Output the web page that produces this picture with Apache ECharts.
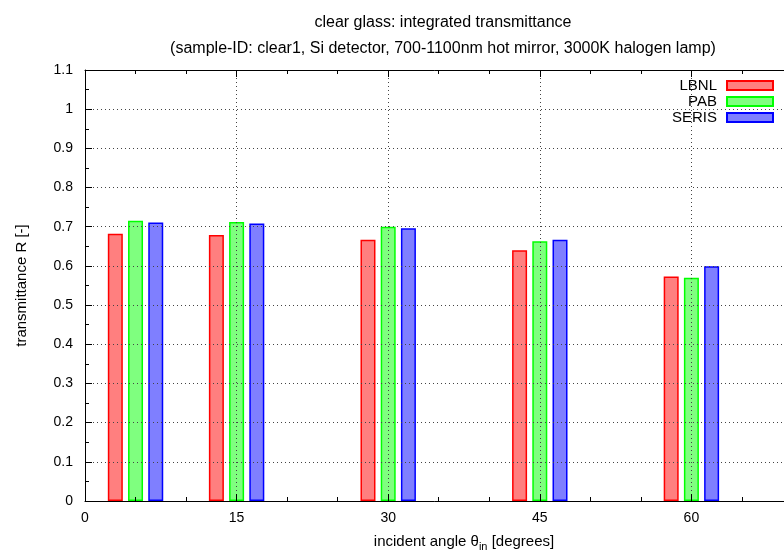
<!DOCTYPE html>
<html>
<head>
<meta charset="utf-8">
<script src="https://cdn.jsdelivr.net/npm/echarts@6/dist/echarts.min.js"></script>
<style>
  html, body { margin: 0; padding: 0; background: #ffffff; }
  #chart { width: 784px; height: 555px; }
</style>
</head>
<body>
<div id="chart"></div>
<script>
// Incident angles (degrees) at which the integrated transmittance was measured
const angles = [5, 15, 30, 45, 60];

// Integrated transmittance per laboratory
const lbnl  = [0.682, 0.679, 0.667, 0.640, 0.573];
const pab   = [0.715, 0.712, 0.700, 0.663, 0.570];
const seris = [0.711, 0.708, 0.696, 0.667, 0.599];

const labNames = ['LBNL', 'PAB', 'SERIS'];

const FONT = '"Liberation Sans", Arial, Helvetica, sans-serif';

// Bars of one angle are spread side by side around the angle value (degrees)
const barShift = [-2, 0, 2];
const strokes = ['#ff0000', '#00ff00', '#0000ff'];
const fills = ['rgba(255,0,0,0.5)', 'rgba(0,255,0,0.5)', 'rgba(0,0,255,0.5)'];

const chart = echarts.init(document.getElementById('chart'), null, { renderer: 'canvas' });

const gridDots = { show: true, lineStyle: { color: '#444', width: 1, type: [1, 3] } };

const series = [lbnl, pab, seris].map((vals, k) => ({
  name: labNames[k],
  type: 'bar',
  xAxisIndex: 0,
  yAxisIndex: 0,
  barWidth: 15,
  barGap: '-100%',
  itemStyle: { color: fills[k], borderColor: strokes[k], borderWidth: 1.5 },
  data: angles.map((a, i) => [a + barShift[k], vals[i]]),
  z: 2
}));

chart.setOption({
  animation: false,
  backgroundColor: '#ffffff',
  textStyle: { fontFamily: FONT },
  title: {
    text: 'clear glass: integrated transmittance',
    subtext: '(sample-ID: clear1, Si detector, 700-1100nm hot mirror, 3000K halogen lamp)',
    left: 438,
    textAlign: 'center',
    top: 10,
    itemGap: 10,
    textStyle: { fontFamily: FONT, fontSize: 16, fontWeight: 'normal', color: '#000' },
    subtextStyle: { fontFamily: FONT, fontSize: 16, color: '#000' }
  },
  legend: {
    data: labNames,
    orient: 'vertical',
    align: 'right',
    right: 5,
    top: 73,
    padding: 5,
    itemWidth: 46,
    itemHeight: 9,
    itemGap: 1,
    icon: 'rect',
    textStyle: { fontFamily: FONT, fontSize: 15, lineHeight: 15, color: '#000', padding: [0, 5, 0, 0] },
    selectedMode: false
  },
  grid: { left: 85, top: 70, right: -59, bottom: 54, containLabel: false, outerBoundsMode: 'none' },
  xAxis: [
    {
      type: 'value',
      position: 'bottom',
      min: 0,
      max: 75,
      interval: 15,
      name: 'incident angle {g|θ}{sub|in} [degrees]',
      nameLocation: 'middle',
      nameGap: 30,
      nameTextStyle: {
        fontFamily: FONT, fontSize: 15, color: '#000',
        rich: {
          g: { fontFamily: FONT, fontSize: 15, color: '#000' },
          sub: { fontFamily: FONT, fontSize: 11, color: '#000', padding: [10, 0, 0, 0] }
        }
      },
      axisLine: { show: true, lineStyle: { color: '#000', width: 1 } },
      axisTick: { show: true, inside: true, length: 7, lineStyle: { color: '#000' } },
      minorTick: { show: true, splitNumber: 3, length: 4, lineStyle: { color: '#000' } },
      axisLabel: { fontFamily: FONT, fontSize: 14, color: '#000', margin: 10 },
      splitLine: gridDots,
      z: 3
    },
    {
      type: 'value',
      position: 'top',
      min: 0,
      max: 75,
      interval: 15,
      axisLine: { show: true, lineStyle: { color: '#000', width: 1 } },
      axisTick: { show: true, inside: true, length: 7, lineStyle: { color: '#000' } },
      minorTick: { show: true, splitNumber: 3, length: 4, lineStyle: { color: '#000' } },
      axisLabel: { show: false },
      splitLine: { show: false },
      z: 3
    }
  ],
  yAxis: {
    type: 'value',
    min: 0,
    max: 1.1,
    interval: 0.1,
    name: 'transmittance R [-]',
    nameLocation: 'middle',
    nameGap: 56,
    nameTextStyle: { fontFamily: FONT, fontSize: 15, color: '#000' },
    axisLine: { show: true, lineStyle: { color: '#000', width: 1 } },
    axisTick: { show: true, inside: true, length: 7, lineStyle: { color: '#000' } },
    minorTick: { show: true, splitNumber: 2, length: 4, lineStyle: { color: '#000' } },
    axisLabel: {
      fontFamily: FONT, fontSize: 14, color: '#000', margin: 12,
      formatter: v => String(Math.round(v * 10) / 10)
    },
    splitLine: gridDots,
    z: 3
  },
  series: series
});
</script>
</body>
</html>
